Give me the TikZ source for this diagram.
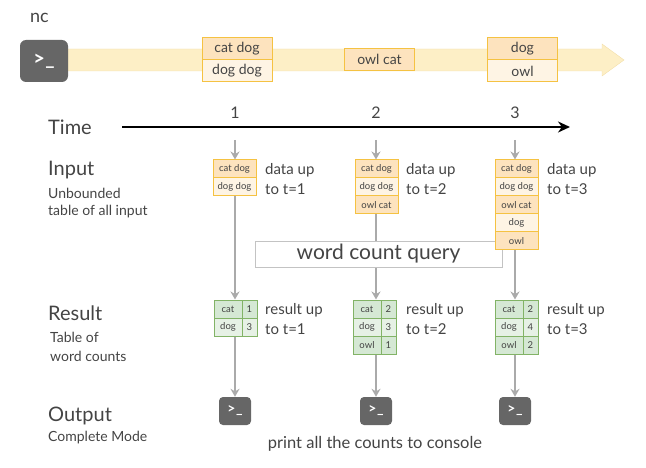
\documentclass[tikz,border=0pt]{standalone}
\usepackage{fontspec}
\setmainfont{Lato}
\usetikzlibrary{arrows.meta}
\definecolor{txt}{HTML}{444444}
\definecolor{band}{HTML}{FDEFC6}
\definecolor{bandb}{HTML}{F3DFA8}
\definecolor{ora}{HTML}{FDE3BE}
\definecolor{oral}{HTML}{FEF4E4}
\definecolor{orab}{HTML}{F5C242}
\definecolor{grn}{HTML}{D5E8D4}
\definecolor{grnl}{HTML}{E6F1E5}
\definecolor{grnb}{HTML}{82B366}
\definecolor{term}{HTML}{666666}
\definecolor{arr}{HTML}{AAAAAA}
\newcommand{\prompt}{\textbf{>\kern0.5pt\_}}
\tikzset{
 lab/.style={text=txt,anchor=west,inner sep=0pt,font=\fontsize{20}{20}\selectfont},
 sub/.style={text=txt,anchor=west,inner sep=0pt,font=\fontsize{14}{14}\selectfont},
 note/.style={text=txt,anchor=west,inner sep=0pt,font=\fontsize{15}{15}\selectfont},
 ib/.style={draw=orab,line width=1pt,fill=ora,text=txt,minimum width=43pt,minimum height=18pt,inner sep=0pt,font=\fontsize{9.5}{9.5}\selectfont},
 ibl/.style={ib,fill=oral},
 tb/.style={draw=orab,line width=1pt,fill=ora,text=txt,minimum width=70pt,minimum height=22pt,inner sep=0pt,font=\fontsize{14}{14}\selectfont},
 tbl/.style={tb,fill=oral},
 gw/.style={draw=grnb,line width=1pt,fill=grn,text=txt,minimum width=28pt,minimum height=18pt,inner sep=0pt,font=\fontsize{9.5}{9.5}\selectfont},
 gn/.style={gw,minimum width=15pt},
 gwl/.style={gw,fill=grnl}, gnl/.style={gn,fill=grnl},
 flow/.style={draw=arr,line width=2pt,-{Stealth[length=8pt,width=9pt]}},
 icon/.style={fill=term,rounded corners=4pt,minimum width=32pt,minimum height=28pt,inner sep=0pt,text=white,font=\fontsize{14}{14}\selectfont}
}
\begin{document}
\begin{tikzpicture}[x=1pt,y=-1pt]
\useasboundingbox (0,0) rectangle (646,468);
% band
\draw[bandb,fill=band] (68,49) -- (602,49) -- (602,44) -- (624,60) -- (602,76) -- (602,71) -- (68,71) -- cycle;
\node[icon,minimum width=48pt,minimum height=42pt,font=\fontsize{20}{20}\selectfont,rounded corners=6pt] (nc) at (44,61) {\prompt};
\node[lab,font=\fontsize{18}{18}\selectfont] (nclab) at (30,18) {nc};
\node[tb] (s1a) at (237,49) {cat dog};
\node[tbl] (s1b) at (237,71) {dog dog};
\node[tb] (s2a) at (379.5,59.5) {owl cat};
\node[tb] (s3a) at (522.5,48.5) {dog};
\node[tbl] (s3b) at (522.5,71) {owl};
% time
\node[lab] (time) at (48,127) {Time};
\coordinate (t0) at (122,127); \coordinate (t1) at (570,127);
\draw[line width=2pt,-{Stealth[length=12pt,width=11pt]}] (t0) -- (t1);
\node[text=txt,font=\fontsize{16}{16}\selectfont] (n1) at (235,113) {1};
\node[text=txt,font=\fontsize{16}{16}\selectfont] (n2) at (376,113) {2};
\node[text=txt,font=\fontsize{16}{16}\selectfont] (n3) at (515,113) {3};
% labels
\node[lab] (inl) at (48,170) {Input};
\node[sub] at (48,193) {Unbounded};
\node[sub] at (48,212) {table of all input};
\node[lab] (rl) at (48,313) {Result};
\node[sub] at (50,337) {Table of};
\node[sub] at (50,356) {word counts};
\node[lab] (ol) at (48,416) {Output};
\node[sub] at (48,438) {Complete Mode};
% column 2 line behind query
\node[ib] (b2a) at (376.5,169) {cat dog};
\node[ibl] (b2b) at (376.5,187) {dog dog};
\node[ib] (b2c) at (376.5,205) {owl cat};
\node[gw] (r2a) at (367,309) {cat};
\node[gn] (r2a2) at (388.5,309) {2};
\node[gwl] (r2b) at (367,327) {dog};
\node[gnl] (r2b2) at (388.5,327) {3};
\node[gw] (r2c) at (367,345) {owl};
\node[gn] (r2c2) at (388.5,345) {1};
\draw[flow] (b2c.south -| n2) -- (r2a.north -| n2);
\node[draw=arr!70,fill=white,minimum width=247pt,minimum height=26pt,inner sep=0pt,text=txt,font=\fontsize{21}{21}\selectfont] (q) at (378.5,254) {word count query};
% column 1
\node[ib] (b1a) at (234.5,169) {cat dog};
\node[ibl] (b1b) at (234.5,187) {dog dog};
\node[gw] (r1a) at (228,309) {cat};
\node[gn] (r1a2) at (249.5,309) {1};
\node[gwl] (r1b) at (228,327) {dog};
\node[gnl] (r1b2) at (249.5,327) {3};
\draw[flow] (b1b.south -| n1) -- (r1a.north -| n1);
% column 3
\node[ib] (b3a) at (516.5,169) {cat dog};
\node[ibl] (b3b) at (516.5,187) {dog dog};
\node[ib] (b3c) at (516.5,205) {owl cat};
\node[ibl] (b3d) at (516.5,223) {dog};
\node[ib] (b3e) at (516.5,241) {owl};
\node[gw] (r3a) at (509,309) {cat};
\node[gn] (r3a2) at (530.5,309) {2};
\node[gwl] (r3b) at (509,327) {dog};
\node[gnl] (r3b2) at (530.5,327) {4};
\node[gw] (r3c) at (509,345) {owl};
\node[gn] (r3c2) at (530.5,345) {2};
\draw[flow] (b3e.south -| n3) -- (r3a.north -| n3);
% time ticks arrows
\coordinate (c1) at (235,140);
\coordinate (c2) at (376,140);
\coordinate (c3) at (515,140);
\draw[flow] (c1) -- (b1a.north -| n1);
\draw[flow] (c2) -- (b2a.north -| n2);
\draw[flow] (c3) -- (b3a.north -| n3);
% notes
\node[note] at (265,170) {data up};
\node[note] at (265,189) {to t=1};
\node[note] at (406,170) {data up};
\node[note] at (406,189) {to t=2};
\node[note] at (547,170) {data up};
\node[note] at (547,189) {to t=3};
\node[note] at (265,310) {result up};
\node[note] at (265,329) {to t=1};
\node[note] at (406,310) {result up};
\node[note] at (406,329) {to t=2};
\node[note] at (547,310) {result up};
\node[note] at (547,329) {to t=3};
% outputs
\node[icon] (o1) at (235,411) {\prompt};
\node[icon] (o2) at (376,411) {\prompt};
\node[icon] (o3) at (515,411) {\prompt};
\draw[flow] (r1b.south -| n1) -- (o1.north);
\draw[flow] (r2c.south -| n2) -- (o2.north);
\draw[flow] (r3c.south -| n3) -- (o3.north);
\node[text=txt,font=\fontsize{16.5}{16.5}\selectfont] (pr) at (375,444) {print all the counts to console};
\end{tikzpicture}
\end{document}
